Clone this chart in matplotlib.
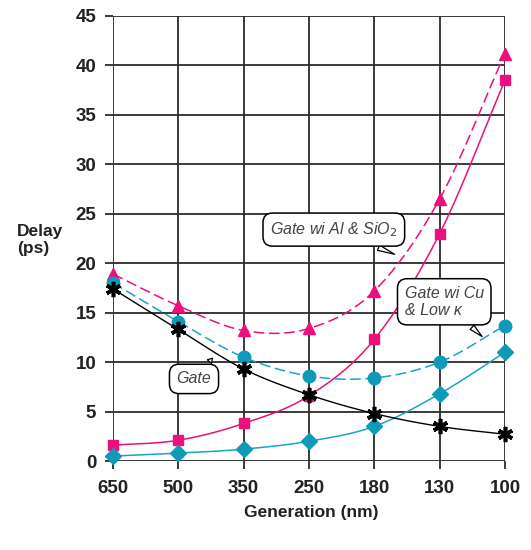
import numpy as np
import matplotlib
matplotlib.use("Agg")
import matplotlib.pyplot as plt

generations = ["650", "500", "350", "250", "180", "130", "100"]
gate = [17.4, 13.3, 9.3, 6.7, 4.8, 3.5, 2.7]
gate_al_sio2 = [18.9, 15.7, 13.2, 13.4, 17.2, 26.5, 41.2]
interconnect_al_sio2 = [1.6, 2.1, 3.8, 6.6, 12.3, 23.0, 38.5]
gate_cu_lowk = [18.0, 14.1, 10.5, 8.6, 8.4, 10.0, 13.7]
interconnect_cu_lowk = [0.5, 0.8, 1.2, 2.0, 3.5, 6.8, 11.0]
yticks = [0, 5, 10, 15, 20, 25, 30, 35, 40, 45]

MAG = "#EC0F7C"
CYA = "#1AA3C4"
CYA_M = "#0E9AB9"
GRID = "#2b2b2b"


def smooth(x, y, n=20):
    x = np.asarray(x, float)
    y = np.asarray(y, float)
    P = np.column_stack([x, y])
    P = np.vstack([2 * P[0] - P[1], P, 2 * P[-1] - P[-2]])
    out = []
    t = np.linspace(0, 1, n)
    for i in range(1, len(P) - 2):
        p0, p1, p2, p3 = P[i - 1], P[i], P[i + 1], P[i + 2]
        c1 = p1 + (p2 - p0) / 6.0
        c2 = p2 - (p3 - p1) / 6.0
        tt = t[:, None]
        seg = ((1 - tt) ** 3) * p1 + 3 * ((1 - tt) ** 2) * tt * c1 + 3 * (1 - tt) * tt ** 2 * c2 + tt ** 3 * p2
        out.append(seg if i == 1 else seg[1:])
    S = np.vstack(out)
    return S[:, 0], S[:, 1]


fig = plt.figure(figsize=(5.31, 5.5), dpi=100)
ax = fig.add_axes([113 / 531, 1 - 461 / 550, 392 / 531, 445 / 550])
xs = np.arange(len(generations))

ax.set_xlim(0, 6)
ax.set_ylim(0, 45)
for s in ax.spines.values():
    s.set_visible(False)
ax.set_xticks(xs)
ax.set_xticklabels(generations)
ax.set_yticks(yticks)
ax.grid(True, color=GRID, linewidth=1.3, zorder=0)
ax.tick_params(direction="out", length=6, width=1.3, color=GRID, pad=6)
ax.tick_params(axis="x", pad=8)
ax.set_axisbelow(True)
for lab in ax.get_xticklabels() + ax.get_yticklabels():
    lab.set_fontfamily("Liberation Sans")
    lab.set_fontweight("bold")
    lab.set_fontsize(13.5)
    lab.set_color("#222222")

series = [
    (gate_al_sio2, MAG, MAG, "^", 9, (0, (7, 3))),
    (interconnect_al_sio2, MAG, MAG, "s", 7, "-"),
    (gate_cu_lowk, CYA, CYA_M, "o", 9, (0, (7, 3))),
    (interconnect_cu_lowk, CYA, CYA_M, "D", 8, "-"),
]
for ys, lc, mc, mk, ms, ls in series:
    sx, sy = smooth(xs, ys)
    ax.plot(sx, sy, color=lc, linewidth=1.1, linestyle=ls, zorder=3, clip_on=False)
    ax.plot(xs, ys, linestyle="none", marker=mk, markersize=ms, color=mc,
            markeredgecolor=mc, zorder=4, clip_on=False)

sx, sy = smooth(xs, gate)
ax.plot(sx, sy, color="black", linewidth=1.0, zorder=3, clip_on=False)
ax.plot(xs, gate, linestyle="none", marker=(6, 2, 0), markersize=11,
        markeredgewidth=2.6, color="black", zorder=5, clip_on=False)

bbox = dict(boxstyle="round,pad=0.45,rounding_size=0.6", fc="white", ec="black", lw=1.1)
arrow = dict(arrowstyle="wedge,tail_width=0.35,shrink_factor=0.5", fc="white", ec="black", lw=0.9)
tkw = dict(fontfamily="Liberation Sans", fontstyle="italic", fontsize=11.5, color="#444444",
           va="center", bbox=bbox, arrowprops=arrow, zorder=6)
ax.annotate("Gate wi Al & SiO$_2$", xy=(4.35, 20.8), xytext=(3.38, 23.4), ha="center", **tkw)
ax.annotate("Gate wi Cu\n& Low κ", xy=(5.68, 12.4), xytext=(5.07, 16.1), ha="center",
            multialignment="left", linespacing=1.15, **tkw)
ax.annotate("Gate", xy=(1.55, 10.6), xytext=(1.24, 8.3), ha="center", **tkw)

fig.text(311 / 531, 1 - 512 / 550, "Generation (nm)", ha="center", va="center",
         fontfamily="Liberation Sans", fontweight="bold", fontsize=12.5, color="#222222")
fig.text(17 / 531, 1 - 240 / 550, "Delay\n(ps)", ha="left", va="center",
         fontfamily="Liberation Sans", fontweight="bold", fontsize=12.5, color="#222222",
         linespacing=1.15)

fig.savefig("out.png", dpi=100)
